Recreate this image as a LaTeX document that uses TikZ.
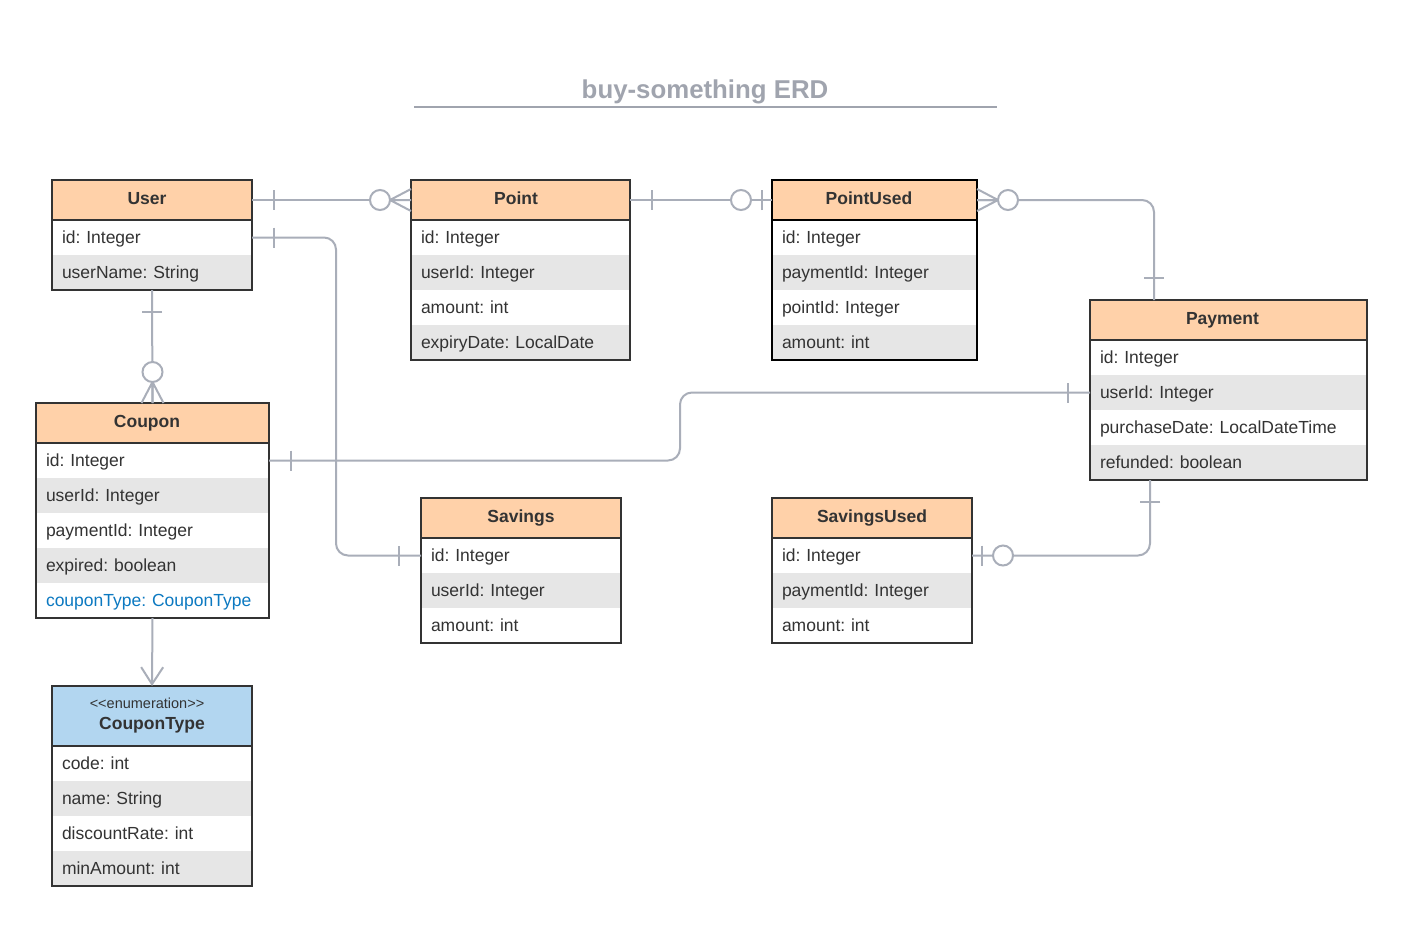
\documentclass[tikz,border=0pt]{standalone}
\usepackage{fontspec}
\setmainfont{Liberation Sans}
\frenchspacing
\usetikzlibrary{arrows.meta}
\definecolor{headpeach}{HTML}{FFD1A9}
\definecolor{headblue}{HTML}{B2D6F0}
\definecolor{rowgray}{HTML}{E6E6E6}
\definecolor{boxline}{HTML}{333333}
\definecolor{linkgray}{HTML}{A9AEB9}
\definecolor{titlegray}{HTML}{A0A4AE}
\definecolor{fieldblue}{HTML}{0C79C1}
\newcommand{\rowheight}{35pt}
\tikzstyle{erdhead}=[fill=headpeach, inner sep=0, outer sep=0, minimum height=40pt, anchor=north west,
                     align=center, text=boxline, text height=12pt, text depth=4pt,
                     font=\bfseries\fontsize{17.5}{20}\selectfont]
\tikzstyle{erdrow}=[inner sep=0, inner xsep=10pt, outer sep=0, minimum height=\rowheight, anchor=north west,
                    align=left, text=boxline, text height=12pt, text depth=0pt,
                    font=\fontsize{17.5}{20}\selectfont]
\tikzstyle{erdborder}=[draw=boxline, line width=2pt]
\tikzstyle{erdline}=[draw=linkgray, line width=2pt, rounded corners=12pt]
\tikzstyle{erdmark}=[draw=linkgray, line width=2pt]
\tikzset{
  % marks sit on the edge of a table and point away from it along +x
  barone/.pic={\draw[erdmark] (22,-10) -- (22,10);},
  zeroone/.pic={\draw[erdmark] (10,-10) -- (10,10);
                \draw[erdmark, fill=white] (31,0) circle (10pt);},
  zeromany/.pic={\draw[erdmark] (0,-11) -- (21,0) -- (0,11) (0,0) -- (21,0);
                 \draw[erdmark, fill=white] (31,0) circle (10pt);}
}
% name, north west corner, width, header options, title, fields
\newcommand{\erdtable}[6]{%
  \node[erdhead, minimum width=#3pt, #4] (#1) at #2 {#5};
  \pgfmathsetmacro{\erdtw}{#3-20}
  \foreach \fld [count=\i] in {#6} {
    \ifodd\i\relax \def\rowfill{white}\else \def\rowfill{rowgray}\fi
    \node[erdrow, fill=\rowfill, text width=\erdtw pt] (#1-\i) at ([yshift={-(\i-1)*35pt}]#1.south west) {\fld};
    \xdef\erdlast{\i}
  }
  \draw[erdborder] (#1.north west) rectangle (#1-\erdlast.south east);
  \draw[erdborder] (#1.south west) -- (#1.south east);
}

\begin{document}
\begin{tikzpicture}[x=1pt, y=-1pt]
  \fill[white] (0,0) rectangle (1404,938);
  \useasboundingbox (0,0) rectangle (1404,938);

  \node[text=titlegray, font=\bfseries\fontsize{25.8}{30}\selectfont] (title) at (705,92) {buy-something ERD};
  \draw[titlegray, line width=2pt] (414,107) -- (997,107);

  \erdtable{user}{(52,180)}{200}{}{User\kern10pt}{id: Integer, userName: String}
  \erdtable{point}{(411,180)}{219}{}{Point\kern9pt}{id: Integer, userId: Integer, amount: int, expiryDate: LocalDate}
  \erdtable{pointused}{(772,180)}{205}{}{PointUsed\kern11pt}{id: Integer, paymentId: Integer, pointId: Integer, amount: int}
  \draw[line width=2pt, black] (pointused.north west) rectangle (pointused-4.south east);
  \draw[line width=2pt, black] (pointused.south west) -- (pointused.south east);
  \erdtable{payment}{(1090,300)}{277}{}{Payment\kern12pt}{id: Integer, userId: Integer, purchaseDate: LocalDateTime, refunded: boolean}
  \erdtable{coupon}{(36,403)}{233}{}{Coupon\kern11pt}{id: Integer, userId: Integer, paymentId: Integer, expired: boolean,
    {\textcolor{fieldblue}{couponType: CouponType}}}
  \erdtable{savings}{(421,498)}{200}{}{Savings}{id: Integer, userId: Integer, amount: int}
  \erdtable{savingsused}{(772,498)}{200}{}{SavingsUsed}{id: Integer, paymentId: Integer, amount: int}
  \erdtable{coupontype}{(52,686)}{200}{fill=headblue, minimum height=60pt, text height=, text depth=}%
    {{\mdseries\fontsize{14.5}{17}\selectfont <{}<enumeration>{}>\kern10pt}\\[1pt]CouponType}{code: int, name: String, discountRate: int, minAmount: int}

  \coordinate (paytop) at ([xshift=64pt]payment.north west);
  \coordinate (paybot) at ([xshift=60pt]payment-4.south west);

  % connectors
  \draw[erdline] (user.east) -- (point.west);
  \draw[erdline] (point.east) -- (pointused.west);
  \draw[erdline] (pointused.east) -| (paytop);
  \draw[erdline] (user-1.east) -- ++(84,0) |- (savings-1.west);
  \draw[erdline] (user-2.south) -- (coupon.north);
  \draw[erdline] (coupon-1.east) -- ++(411,0) |- (payment-2.west);
  \draw[erdline] (paybot) |- (savingsused-1.east);
  \draw[erdline, -{Straight Barb[length=17pt, width=22pt]}] (coupon-5.south) -- (coupontype.north);

  % cardinality marks
  \pic at (user.east) {barone};
  \pic[rotate=180] at (point.west) {zeromany};
  \pic at (point.east) {barone};
  \pic[rotate=180] at (pointused.west) {zeroone};
  \pic at (pointused.east) {zeromany};
  \pic[rotate=90] at (paytop) {barone};
  \pic at (user-1.east) {barone};
  \pic[rotate=180] at (savings-1.west) {barone};
  \pic[rotate=-90] at (user-2.south) {barone};
  \pic[rotate=90] at (coupon.north) {zeromany};
  \pic at (coupon-1.east) {barone};
  \pic[rotate=180] at (payment-2.west) {barone};
  \pic[rotate=-90] at (paybot) {barone};
  \pic at (savingsused-1.east) {zeroone};
\end{tikzpicture}
\end{document}
